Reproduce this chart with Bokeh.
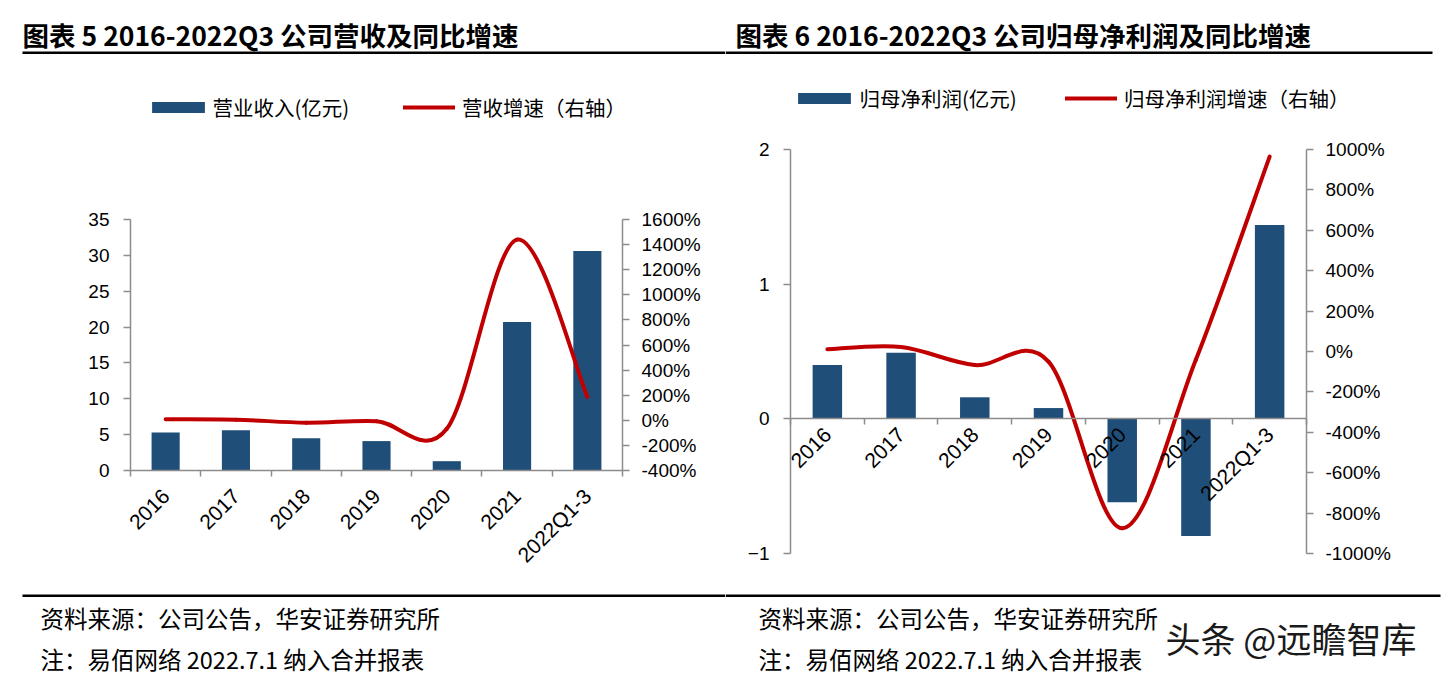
import math
from bokeh.plotting import figure
from bokeh.models import (Range1d, LinearAxis, FixedTicker, NumeralTickFormatter,
                          Legend, LegendItem, Label, BoxAnnotation, ColumnDataSource)
from bokeh.layouts import row
from bokeh.embed import file_html
from bokeh.resources import INLINE

# ---------------- data ----------------
categories = ["2016", "2017", "2018", "2019", "2020", "2021", "2022Q1-3"]
revenue = [5.3, 5.6, 4.5, 4.1, 1.3, 20.7, 30.6]                 # 亿元
revenue_growth = [0.08, 0.05, -0.19, -0.07, -0.68, 14.4, 1.87]    # fraction (1.0 = 100%)
profit = [0.40, 0.49, 0.16, 0.08, -0.62, -0.87, 1.44]             # 亿元
profit_growth = [0.11, 0.22, -0.67, -0.50, -8.75, -0.40, 9.65]    # fraction

rev_ticks = [0, 5, 10, 15, 20, 25, 30, 35]
rev_pct_ticks = [-4, -2, 0, 2, 4, 6, 8, 10, 12, 14, 16]
profit_ticks = [-1, 0, 1, 2]
profit_pct_ticks = [-10, -8, -6, -4, -2, 0, 2, 4, 6, 8, 10]

title1 = "图表 5 2016-2022Q3 公司营收及同比增速"
title2 = "图表 6 2016-2022Q3 公司归母净利润及同比增速"
legend1 = ["营业收入(亿元)", "营收增速（右轴）"]
legend2 = ["归母净利润(亿元)", "归母净利润增速（右轴）"]
source_note = "资料来源：公司公告，华安证券研究所"
extra_note = "注：易佰网络 2022.7.1 纳入合并报表"
watermark = "头条 @远瞻智库"

BAR = "#1F4E79"
RED = "#C00000"
AXIS = "#8C8C8C"
CJK = "Noto Sans CJK SC"
LAT = "Liberation Sans"
H = 677


def smooth(xs, ys):
    """Excel-like smoothed line: cubic Bezier control points (Catmull-Rom)."""
    n = len(xs)
    d = dict(x0=[], y0=[], x1=[], y1=[], cx0=[], cy0=[], cx1=[], cy1=[])
    for i in range(n - 1):
        p0 = (xs[max(i - 1, 0)], ys[max(i - 1, 0)])
        p1 = (xs[i], ys[i])
        p2 = (xs[i + 1], ys[i + 1])
        p3 = (xs[min(i + 2, n - 1)], ys[min(i + 2, n - 1)])
        d["x0"].append(p1[0]); d["y0"].append(p1[1])
        d["x1"].append(p2[0]); d["y1"].append(p2[1])
        d["cx0"].append(p1[0] + (p2[0] - p0[0]) / 6.0)
        d["cy0"].append(p1[1] + (p2[1] - p0[1]) / 6.0)
        d["cx1"].append(p2[0] - (p3[0] - p1[0]) / 6.0)
        d["cy1"].append(p2[1] - (p3[1] - p1[1]) / 6.0)
    return d


def span_range(lo, hi, plo, phi, total):
    """Range so that value lo sits at pixel plo and hi at pixel phi (pixels measured
    from the range's start side); frame covers 0..total pixels."""
    k = (hi - lo) / (phi - plo)
    return Range1d(lo - plo * k, hi + (total - phi) * k)


def style_axis(ax, size="19px"):
    ax.axis_line_color = AXIS
    ax.axis_line_width = 1.5
    ax.major_tick_line_color = AXIS
    ax.major_tick_line_width = 1.5
    ax.minor_tick_line_color = None
    ax.major_tick_in = 0
    ax.major_tick_out = 7
    ax.major_label_text_font = LAT
    ax.major_label_text_font_size = size
    ax.major_label_text_color = "black"


def make_legend(label, renderer, x, y, gw, gh, standoff):
    return Legend(items=[LegendItem(label=label, renderers=[renderer])],
                  orientation="horizontal", location=(x, y),
                  glyph_width=gw, glyph_height=gh, label_standoff=standoff,
                  padding=0, margin=0, border_line_color=None,
                  background_fill_alpha=0, label_text_font=CJK,
                  label_text_font_size="20.5px", label_text_color="black")


class Chart:
    def __init__(self, W, box, bars, growth, yr, pr, yticks, pticks, xstand,
                 legend_labels, leg_bar_x, leg_line_x, leg_center_y, bar_standoff):
        fl, fr, ft, fb = box   # chart area in figure pixels (y downward)
        self.W = W
        n = len(categories)
        xr = span_range(-0.5, n - 0.5, fl, fr, W)
        yrng = span_range(yr[0], yr[1], H - fb, H - ft, H)
        prng = span_range(pr[0], pr[1], H - fb, H - ft, H)
        self.xr, self.yr = xr, yrng
        p = figure(width=W, height=H, output_backend="svg", toolbar_location=None,
                   x_range=xr, y_range=yrng,
                   min_border_left=0, min_border_right=0,
                   min_border_top=0, min_border_bottom=0)
        p.outline_line_color = None
        p.background_fill_color = "white"
        p.border_fill_color = "white"
        p.xgrid.visible = False
        p.ygrid.visible = False
        p.extra_y_ranges = {"pct": prng}

        xs = list(range(n))
        src = ColumnDataSource(dict(x=xs, top=bars))
        vb = p.vbar(x="x", top="top", width=0.4, source=src, fill_color=BAR, line_color=None)
        curve = p.bezier(source=ColumnDataSource(smooth(xs, growth)),
                         x0="x0", y0="y0", x1="x1", y1="y1",
                         cx0="cx0", cy0="cy0", cx1="cx1", cy1="cy1",
                         line_color=RED, line_width=4, line_cap="round",
                         y_range_name="pct")

        # left axis
        ya = p.yaxis[0]
        ya.ticker = FixedTicker(ticks=yticks)
        ya.fixed_location = -0.5
        ya.bounds = (yr[0], yr[1])
        style_axis(ya)
        ya.major_label_standoff = 14

        # right axis
        ra = LinearAxis(y_range_name="pct", ticker=FixedTicker(ticks=pticks),
                        formatter=NumeralTickFormatter(format="0%"))
        style_axis(ra)
        ra.fixed_location = n - 0.5
        ra.bounds = (pr[0], pr[1])
        ra.major_label_standoff = 12
        p.add_layout(ra, "right")

        # x axis: labels at centres, ticks at category boundaries
        xa = p.xaxis[0]
        xa.ticker = FixedTicker(ticks=xs, minor_ticks=[i - 0.5 for i in range(n + 1)])
        xa.major_label_overrides = {i: c for i, c in enumerate(categories)}
        style_axis(xa, "21px")
        xa.major_tick_out = 0
        xa.major_tick_line_color = None
        xa.minor_tick_line_color = AXIS
        xa.minor_tick_line_width = 1.5
        xa.minor_tick_in = 0
        xa.minor_tick_out = 6
        xa.major_label_orientation = math.pi / 4
        xa.major_label_standoff = xstand
        xa.fixed_location = 0
        xa.bounds = (-0.5, n - 0.5)

        leg_h = 28
        ly = H - (leg_center_y + leg_h / 2)
        p.add_layout(make_legend(legend_labels[0], vb, leg_bar_x, ly, 66, 14, bar_standoff), "center")
        p.add_layout(make_legend(legend_labels[1], curve, leg_line_x, ly, 52, 14, 7), "center")
        self.p = p

    # pixel (figure coords, y downward) -> data coords of the main ranges
    def X(self, fx):
        return self.xr.start + fx * (self.xr.end - self.xr.start) / self.W

    def Y(self, fy):
        return self.yr.end - fy * (self.yr.end - self.yr.start) / H

    def text(self, fx, fy, text, size, bold=False, color="black"):
        self.p.add_layout(Label(x=self.X(fx), y=self.Y(fy), text=text,
                                text_font=CJK, text_font_size=size,
                                text_font_style="bold" if bold else "normal",
                                text_color=color, text_baseline="middle",
                                text_align="left"))

    def rule(self, fl, fr, ft, fb):
        self.p.add_layout(BoxAnnotation(left=self.X(fl), right=self.X(fr),
                                        top=self.Y(ft), bottom=self.Y(fb),
                                        fill_color="black", fill_alpha=1,
                                        line_color=None, line_alpha=0))


# ---------------- chart 1 (page x 0..725) ----------------
W1, W2 = 725, 722
c1 = Chart(W1, (130, 622, 219, 470), revenue, revenue_growth, (0, 35), (-4, 16),
           rev_ticks, rev_pct_ticks, 16, legend1, 145.4, 403, 107.5, 1)
c1.text(22, 34, title1, "26.5px", bold=True)
c1.rule(22, W1, 51, 53.5)
c1.rule(22, W1, 594, 596.5)
c1.text(40, 617, source_note, "23.5px")
c1.text(40, 658, extra_note, "23.5px")

# ---------------- chart 2 (page x 725..1447) ----------------
c2 = Chart(W2, (65, 581, 149, 553), profit, profit_growth, (-1, 2), (-10, 10),
           profit_ticks, profit_pct_ticks, 6, legend2, 66.4, 340, 99, 2)
c2.text(10, 34, title2, "26.5px", bold=True)
c2.rule(0, 707, 51, 53.5)
c2.rule(0, 715, 594, 596.5)
c2.text(33, 617, source_note, "23.5px")
c2.text(33, 658, extra_note, "23.5px")
c2.text(440, 637, watermark, "35px", color="#1a1a1a")

layout = row(c1.p, c2.p)
open("out.html", "w").write(file_html(layout, INLINE))
